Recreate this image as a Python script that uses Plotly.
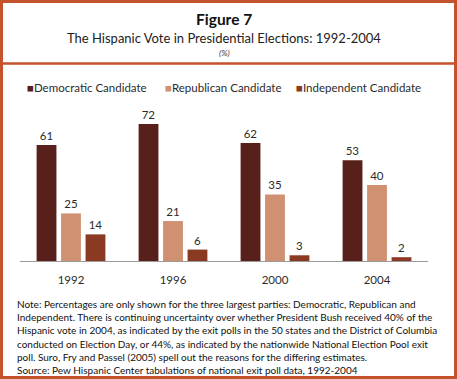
import plotly.graph_objects as go

years = ["1992", "1996", "2000", "2004"]
series_names = ["Democratic Candidate", "Republican Candidate", "Independent Candidate"]
democratic = [61, 72, 62, 53]
republican = [25, 21, 35, 40]
independent = [14, 6, 3, 2]
colors = ["#58201a", "#d09072", "#8a3a22"]

title = "Figure 7"
subtitle = "The Hispanic Vote in Presidential Elections: 1992-2004"
unit = "(%)"
notes = [
    "Note: Percentages are only shown for the three largest parties: Democratic, Republican and",
    "Independent. There is continuing uncertainty over whether President Bush received 40% of the",
    "Hispanic vote in 2004, as indicated by the exit polls in the 50 states and the District of Columbia",
    "conducted on Election Day, or 44%, as indicated by the nationwide National Election Pool exit",
    "poll. Suro, Fry and Passel (2005) spell out the reasons for the differing estimates.",
    "Source: Pew Hispanic Center tabulations of national exit poll data, 1992-2004",
]

W, H = 457, 379
L, R, T, B = 20, 428, 105, 261
FONT = "Lato"
TXT = "#2b2b2b"
BORDER = "#c4522c"


def px(x):
    return (x - L) / (R - L)


def py(y):
    return (B - y) / (B - T)


fig = go.Figure()
for name, vals, col in zip(series_names, [democratic, republican, independent], colors):
    fig.add_trace(go.Bar(
        x=years, y=vals, name=name, marker=dict(color=col, line=dict(width=0)),
        text=[str(v) for v in vals], textposition="outside",
        textfont=dict(family=FONT, size=11.5, color=TXT), cliponaxis=False,
        showlegend=False,
    ))

annotations = [
    dict(text="<b>" + title + "</b>", x=0.5, xref="paper", y=py(19), yref="paper",
         showarrow=False, font=dict(family=FONT, size=15.5, color="#111"), xanchor="center", yanchor="middle"),
    dict(text=subtitle, x=0.5, xref="paper", y=py(37.5), yref="paper",
         showarrow=False, font=dict(family=FONT, size=13, color="#222"), xanchor="center", yanchor="middle"),
    dict(text="<i>" + unit + "</i>", x=0.5, xref="paper", y=py(53), yref="paper",
         showarrow=False, font=dict(family=FONT, size=8.5, color="#333"), xanchor="center", yanchor="middle"),
]

legend_x = [25, 163, 294]
for lx, name, col in zip(legend_x, series_names, colors):
    annotations.append(dict(
        text="<span style='color:%s'>■</span>%s" % (col, name),
        x=px(lx), xref="paper", y=py(87), yref="paper", showarrow=False,
        xanchor="left", yanchor="middle", font=dict(family=FONT, size=11.5, color=TXT)))

for i, line in enumerate(notes):
    annotations.append(dict(
        text=line, x=px(15), xref="paper", y=py(304 + i * 13.2), yref="paper", showarrow=False,
        xanchor="left", yanchor="middle", font=dict(family=FONT, size=10, color="#111")))

shapes = [
    dict(type="rect", xref="paper", yref="paper", x0=px(1.5), x1=px(455.5), y0=py(1.5), y1=py(377.5),
         line=dict(color=BORDER, width=3), layer="above"),
    dict(type="line", xref="paper", yref="paper", x0=px(1.5), x1=px(455.5), y0=py(63.5), y1=py(63.5),
         line=dict(color=BORDER, width=2.5), layer="above"),
]

fig.update_layout(
    width=W, height=H,
    margin=dict(l=L, r=W - R, t=T, b=H - B, pad=0),
    paper_bgcolor="white", plot_bgcolor="white",
    barmode="group", bargap=0.28, bargroupgap=0.19,
    xaxis=dict(showline=True, linecolor="#9a9a9a", linewidth=1.2, ticks="", showgrid=False,
               tickfont=dict(family=FONT, size=11.5, color=TXT), ticklabelstandoff=8, fixedrange=True),
    yaxis=dict(range=[0, 82], visible=False, showgrid=False, fixedrange=True),
    annotations=annotations, shapes=shapes,
    showlegend=False,
)

fig.write_html("out.html", config={"displayModeBar": False},
               post_script="document.body.style.margin='0px';document.body.style.overflow='hidden';")
